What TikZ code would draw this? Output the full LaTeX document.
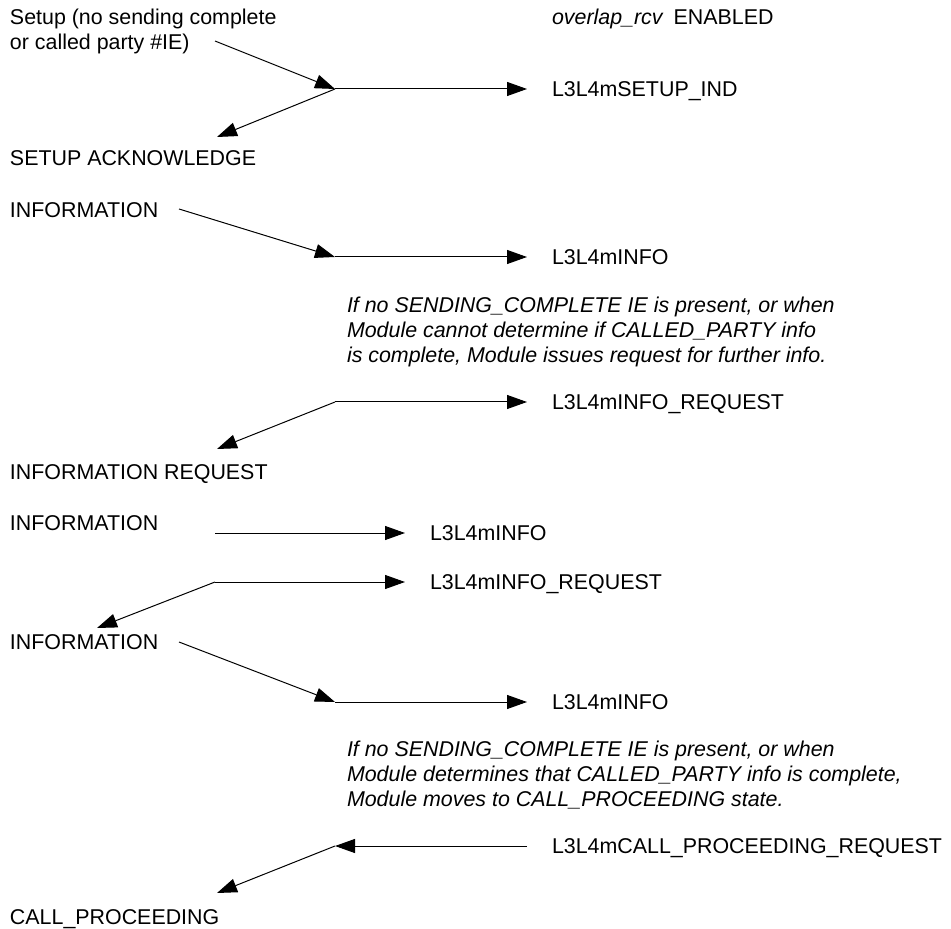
\documentclass[tikz,border=0pt]{standalone}
\usepackage{fontspec}
\setmainfont{Liberation Sans}
\usetikzlibrary{arrows.meta}

\tikzset{
    msg/.style={inner sep=0pt, outer sep=0pt, align=left},
    prim/.style={inner xsep=12.5pt, inner ysep=0pt, outer sep=0pt},
    remark/.style={inner sep=0pt, outer sep=0pt, align=left, font=\fontsize{10.7pt}{12.5pt}\selectfont\itshape}
}

\begin{document}
\begin{tikzpicture}[x=0.5pt, y=-0.5pt, line width=0.5pt,
    >={Triangle[length=10pt,width=7pt]},
    font=\fontsize{10.7pt}{12.5pt}\selectfont]

        \useasboundingbox (0,0) rectangle (951,929);

        % Vertices
        \node[msg, anchor=west](setup) at (10,31){Setup (no sending complete\\or called party \#IE)};
        \node[msg, anchor=base west](overlap) at (552,24.5){\textit{overlap\_rcv}\hspace{5pt}ENABLED};
        \node[prim, anchor=base west](setupInd) at (527,96.5){L3L4mSETUP\_IND};
        \node[msg, anchor=base west](setupAck) at (10,165.5){SETUP ACKNOWLEDGE};
        \node[msg, anchor=base west](infoA) at (10,217.5){INFORMATION};
        \node[prim, anchor=base west](infoIndA) at (527,264.5){L3L4mINFO};
        \node[remark, anchor=west](noteA) at (347,332){If no SENDING\_COMPLETE IE is present, or when\\Module cannot determine if CALLED\_PARTY info\\is complete, Module issues request for further info.};
        \node[prim, anchor=base west](infoReqA) at (527,409.5){L3L4mINFO\_REQUEST};
        \node[msg, anchor=base west](infoRequest) at (10,479.5){INFORMATION REQUEST};
        \node[msg, anchor=base west](infoB) at (10,530.5){INFORMATION};
        \node[prim, anchor=base west](infoIndB) at (405,540.5){L3L4mINFO};
        \node[prim, anchor=base west](infoReqB) at (405,589.5){L3L4mINFO\_REQUEST};
        \node[msg, anchor=base west](infoC) at (10,649.5){INFORMATION};
        \node[prim, anchor=base west](infoIndC) at (527,709.5){L3L4mINFO};
        \node[remark, anchor=west](noteB) at (347,775){If no SENDING\_COMPLETE IE is present, or when\\Module determines that CALLED\_PARTY info is complete,\\Module moves to CALL\_PROCEEDING state.};
        \node[prim, anchor=base west](callReq) at (527,853.5){L3L4mCALL\_PROCEEDING\_REQUEST};
        \node[msg, anchor=base west](callProc) at (10,924.5){CALL\_PROCEEDING};

        % Joints
        \coordinate (setupFrom) at (215,41);
        \coordinate (setupJoin) at (335,89);
        \coordinate (setupAckTip) at (217,137);
        \coordinate (infoFromA) at (179,209);
        \coordinate (infoJoinA) at (335,257);
        \coordinate (infoReqJoinA) at (335,402);
        \coordinate (infoReqTipA) at (217,449);
        \coordinate (infoFromB) at (215,533);
        \coordinate (infoReqJoinB) at (215,582);
        \coordinate (infoReqTipB) at (97,628);
        \coordinate (infoFromC) at (179,642);
        \coordinate (infoJoinC) at (335,702);
        \coordinate (callJoin) at (335,846);
        \coordinate (callProcTip) at (217,893);

        % Edges
        \draw[->](setupFrom) -- (setupJoin);
        \draw[->](setupJoin) -- (setupJoin -| setupInd.west);
        \draw[->](setupJoin) -- (setupAckTip);
        \draw[->](infoFromA) -- (infoJoinA);
        \draw[->](infoJoinA) -- (infoJoinA -| infoIndA.west);
        \draw[->](infoReqJoinA) -- (infoReqJoinA -| infoReqA.west);
        \draw[->](infoReqJoinA) -- (infoReqTipA);
        \draw[->](infoFromB) -- (infoFromB -| infoIndB.west);
        \draw[->](infoReqJoinB) -- (infoReqJoinB -| infoReqB.west);
        \draw[->](infoReqJoinB) -- (infoReqTipB);
        \draw[->](infoFromC) -- (infoJoinC);
        \draw[->](infoJoinC) -- (infoJoinC -| infoIndC.west);
        \draw[->](callJoin -| callReq.west) -- (callJoin);
        \draw[->](callJoin) -- (callProcTip);

    \end{tikzpicture}
\end{document}
